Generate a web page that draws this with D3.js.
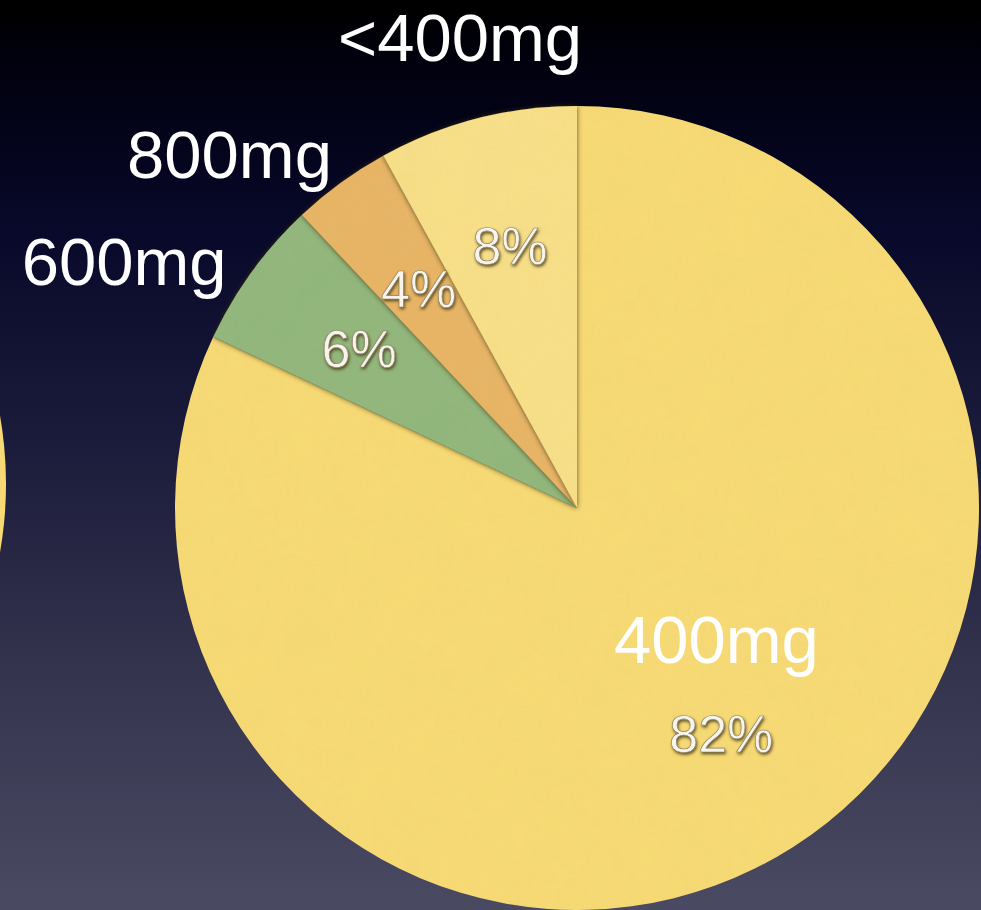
<!DOCTYPE html>
<html>
<head>
<meta charset="utf-8">
<script src="https://cdn.jsdelivr.net/npm/d3@7/dist/d3.min.js"></script>
<style>
  html, body { margin: 0; padding: 0; background: #000; overflow: hidden; }
  svg { display: block; }
</style>
</head>
<body>
<svg id="chart" width="981" height="910"></svg>
<script>
// Dose distribution
const categories = ["400mg", "600mg", "800mg", "<400mg"];
const shares = [82, 6, 4, 8];
const sliceColors = ["#f7da74", "#90b67b", "#e8b465", "#f8df88"];

const width = 981, height = 910;
const cx = 577, cy = 508, R = 402;

const svg = d3.select("#chart");
const defs = svg.append("defs");

// night-sky backdrop
const bg = defs.append("linearGradient").attr("id", "bg")
  .attr("x1", 0).attr("y1", 0).attr("x2", 0).attr("y2", 1);
[[0, "#000000"], [0.08, "#010110"], [0.25, "#08082a"], [0.5, "#1c1c3c"], [0.75, "#35354f"], [1, "#4b4a63"]]
  .forEach(([o, c]) => bg.append("stop").attr("offset", o).attr("stop-color", c));
svg.append("rect").attr("width", width).attr("height", height).attr("fill", "url(#bg)");

// soft shadow along the edges of the small wedges
const sh = defs.append("filter").attr("id", "wedgeShadow")
  .attr("x", "-20%").attr("y", "-20%").attr("width", "140%").attr("height", "140%");
sh.append("feDropShadow").attr("dx", 0).attr("dy", 0).attr("stdDeviation", 2.5)
  .attr("flood-color", "#3a2e10").attr("flood-opacity", 0.85);

// embossed percentage text
const emb = defs.append("filter").attr("id", "emboss")
  .attr("x", "-20%").attr("y", "-30%").attr("width", "140%").attr("height", "160%");
emb.append("feDropShadow").attr("dx", 1).attr("dy", 2).attr("stdDeviation", 1.6)
  .attr("flood-color", "#4a3d18").attr("flood-opacity", 0.85);

// paper grain
const grain = defs.append("filter").attr("id", "grain");
grain.append("feTurbulence").attr("type", "fractalNoise").attr("baseFrequency", 0.02)
  .attr("numOctaves", 3).attr("seed", 4).attr("result", "n");
grain.append("feColorMatrix").attr("in", "n").attr("type", "matrix")
  .attr("values", "0 0 0 0 0.6  0 0 0 0 0.5  0 0 0 0 0.2  0 0 0 0.12 0");
grain.append("feComposite").attr("in2", "SourceGraphic").attr("operator", "in");

// neighbouring pie peeking in from the left edge
svg.append("circle").attr("cx", -388).attr("cy", 484).attr("r", 394).attr("fill", sliceColors[0]);

const pie = d3.pie().sort(null).value(d => d)(shares);
const arc = d3.arc().innerRadius(0).outerRadius(R);
const labelArc = d3.arc().innerRadius(R * 0.67).outerRadius(R * 0.67);

const g = svg.append("g").attr("transform", `translate(${cx},${cy})`);

pie.forEach((p, i) => {
  g.append("path").attr("d", arc(p)).attr("fill", sliceColors[i])
    .attr("filter", i === 0 ? null : "url(#wedgeShadow)");
});
g.append("circle").attr("r", R).attr("fill", "#fff").attr("filter", "url(#grain)").attr("opacity", 0.6);

const fontFamily = "'Liberation Sans', Arial, Helvetica, sans-serif";

// percentages inside the wedges
pie.forEach((p, i) => {
  const [x, y] = labelArc.centroid(p);
  g.append("text").attr("x", x).attr("y", y + 17)
    .attr("text-anchor", "middle")
    .attr("font-family", fontFamily).attr("font-size", 52)
    .attr("fill", "#f6f4ec").attr("stroke", "#8a7d5c").attr("stroke-width", 0.6)
    .attr("filter", "url(#emboss)")
    .text(shares[i] + "%");
});

// small hand nudges so the outer names clear each other
const nudge = { "600mg": [-9, 5], "800mg": [3, -9], "<400mg": [2, -8] };

// category names
pie.forEach((p, i) => {
  const mid = (p.startAngle + p.endAngle) / 2;
  const s = Math.sin(mid), c = -Math.cos(mid);
  const [nx, ny] = nudge[categories[i]] || [0, 0];
  const t = g.append("text").attr("font-family", fontFamily).attr("font-size", 67)
    .attr("fill", "#ffffff").text(categories[i]);
  if (p.endAngle - p.startAngle > Math.PI) {
    // big wedge: name sits above its percentage
    const [x, y] = labelArc.centroid(p);
    t.attr("x", x - 5).attr("y", y - 72).attr("text-anchor", "middle");
  } else if (Math.abs(s) < 0.3) {
    const r = R * 1.19;
    t.attr("x", r * s + nx).attr("y", r * c + 24 + ny).attr("text-anchor", "middle");
  } else {
    const r = R * 1.05;
    t.attr("x", r * s + nx).attr("y", r * c + 20 + ny).attr("text-anchor", s < 0 ? "end" : "start");
  }
});
</script>
</body>
</html>
